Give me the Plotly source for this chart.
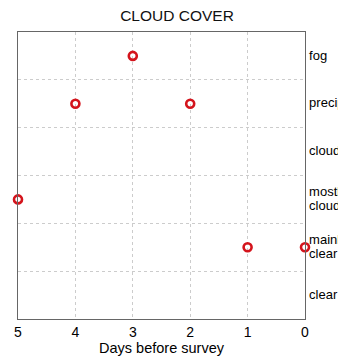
import plotly.graph_objects as go

# Cloud cover observations
categories = ["clear", "mainly clear", "mostly cloudy", "cloudy", "precip", "fog"]
category_labels = ["clear", "mainly<br>clear", "mostly<br>cloudy", "cloudy", "precip", "fog"]
days_before = [3, 4, 2, 5, 1, 0]
cover = ["fog", "precip", "precip", "mostly cloudy", "mainly clear", "mainly clear"]
day_ticks = [5, 4, 3, 2, 1, 0]

FONT = "Liberation Sans, Arial, sans-serif"
GRID = "#cccccc"
RED = "#d4141c"


def tight(label, px=13):
    # glyphs a bit bigger than the tick font so the <br> line gap stays tight
    return "<br>".join(f'<span style="font-size:{px}px">{part}</span>' for part in label.split("<br>"))


fig = go.Figure(
    go.Scatter(
        x=days_before,
        y=cover,
        mode="markers",
        marker=dict(symbol="circle-open", size=8, color=RED, line=dict(width=2.6, color=RED)),
        cliponaxis=False,
        hoverinfo="x+y",
    )
)

# page body has an 8px margin, so the figure is a bit smaller than the window
fig.update_layout(
    width=338,
    height=354,
    paper_bgcolor="white",
    plot_bgcolor="white",
    showlegend=False,
    margin=dict(l=10, r=41, t=24, b=43),
    font=dict(family=FONT, color="black", size=14),
    title=dict(text="CLOUD COVER", x=0.5, xanchor="center", y=0.98, yanchor="middle",
               font=dict(size=15.5, family=FONT, color="#111")),
)

fig.update_xaxes(
    range=[5, 0],
    tickvals=day_ticks,
    ticks="",
    automargin=False,
    showgrid=True,
    gridcolor=GRID,
    griddash="dot",
    gridwidth=1,
    showline=True,
    linecolor="#666",
    linewidth=1,
    mirror=True,
    zeroline=False,
    title=dict(text="Days before survey", standoff=4, font=dict(size=14.5)),
    tickfont=dict(size=14),
)

fig.update_yaxes(
    type="category",
    categoryorder="array",
    categoryarray=categories,
    tickvals=categories,
    ticktext=[tight(t) for t in category_labels],
    tickson="boundaries",
    range=[-0.5, 5.5],
    side="right",
    ticks="",
    ticklabelstandoff=1,
    automargin=False,
    showgrid=True,
    gridcolor=GRID,
    griddash="dot",
    gridwidth=1,
    showline=True,
    linecolor="#666",
    linewidth=1,
    mirror=True,
    zeroline=False,
    tickfont=dict(size=10.5),
)

fig.write_html("out.html")
